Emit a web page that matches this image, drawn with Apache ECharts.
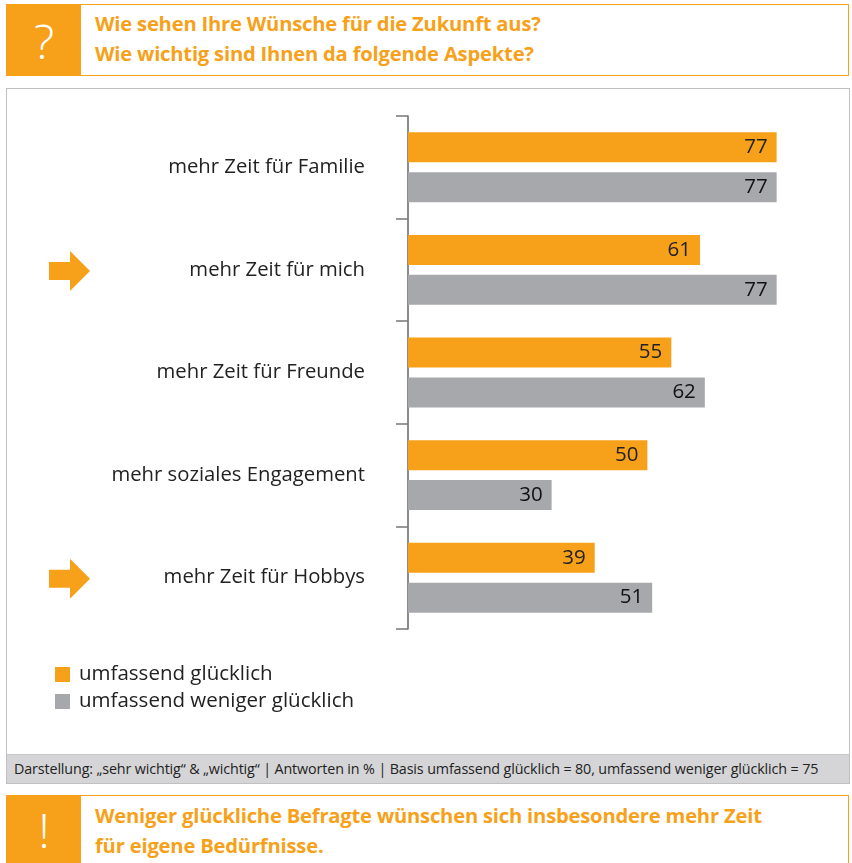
<!DOCTYPE html>
<html>
<head>
<meta charset="utf-8">
<script src="https://cdn.jsdelivr.net/npm/echarts@6/dist/echarts.min.js"></script>
<style>
body { margin: 0; width: 852px; height: 863px; background: #fff; font-family: "Open Sans", sans-serif; position: relative; overflow: hidden; }
.box { position: absolute; left: 6px; width: 843px; border: 1px solid #f7a11a; box-sizing: border-box; }
.sign { position: absolute; left: 0; top: 0; bottom: 0; width: 74px; background: #f7a11a; color: #fff; font-size: 48px; text-align: center; font-weight: 300; }
.boxText { position: absolute; left: 88px; color: #f7a11a; font-weight: bold; font-size: 20.2px; line-height: 30px; white-space: nowrap; letter-spacing: -0.2px; }
#frame { position: absolute; left: 6px; top: 88px; width: 844px; height: 696px; border: 1px solid #c0c0c0; box-sizing: border-box; }
#note { position: absolute; left: 0; right: 0; bottom: 0; height: 28px; background: #d5d5d7; border-top: 1px solid #c8c8c8; font-size: 14.3px; color: #222; line-height: 28px; padding-left: 7px; white-space: nowrap; letter-spacing: -0.12px; }
#myChartBar { position: absolute; left: 0; top: 0; width: 842px; height: 667px; }
</style>
</head>
<body>
<div class="box" style="top:4px;height:72px;">
  <div class="sign" style="line-height:72px;">?</div>
  <div class="boxText" style="top:3px;">Wie sehen Ihre Wünsche für die Zukunft aus?<br>Wie wichtig sind Ihnen da folgende Aspekte?</div>
</div>
<div id="frame">
  <div id="myChartBar"></div>
  <div id="note">Darstellung: „sehr wichtig“ &amp; „wichtig“ | Antworten in % | Basis umfassend glücklich = 80, umfassend weniger glücklich = 75</div>
</div>
<div class="box" style="top:795px;height:72px;">
  <div class="sign" style="line-height:68px;">!</div>
  <div class="boxText" style="top:4px;">Weniger glückliche Befragte wünschen sich insbesondere mehr Zeit<br>für eigene Bedürfnisse.</div>
</div>
<script>
var categories = ["mehr Zeit für Familie", "mehr Zeit für mich", "mehr Zeit für Freunde", "mehr soziales Engagement", "mehr Zeit für Hobbys"];
var gluecklich = [77, 61, 55, 50, 39];
var wenigerGluecklich = [77, 77, 62, 30, 51];
var seriesNames = ["umfassend glücklich", "umfassend weniger glücklich"];
var markedCategories = ["mehr Zeit für mich", "mehr Zeit für Hobbys"];

var colors = ["#f7a11a", "#a7a8ab"];
var myChartBar = echarts.init(document.getElementById("myChartBar"));
myChartBar.setOption({
  animation: false,
  color: colors,
  textStyle: { fontFamily: "Open Sans" },
  legend: {
    orient: "vertical",
    left: 43,
    top: 570,
    itemWidth: 15,
    itemHeight: 15,
    itemGap: 6,
    icon: "rect",
    textStyle: { fontSize: 20.5, color: "#222", padding: [0, 0, 0, 4] },
    data: seriesNames
  },
  grid: { left: 401, right: 58, top: 27, height: 513 },
  xAxis: { type: "value", min: 0, max: 80, show: false },
  yAxis: {
    type: "category",
    inverse: true,
    data: categories,
    axisLine: { show: true, lineStyle: { color: "#666", width: 1.5 } },
    axisTick: { show: true, alignWithLabel: false, length: 12, lineStyle: { color: "#777", width: 1.5 } },
    axisLabel: { fontSize: 20.3, color: "#222", margin: 43, padding: [3, 0, 0, 0] }
  },
  series: [
    {
      name: seriesNames[0],
      type: "bar",
      barWidth: 30,
      barGap: "33%",
      data: gluecklich,
      label: { show: true, position: "insideRight", distance: 9, fontSize: 20.5, color: "#222" }
    },
    {
      name: seriesNames[1],
      type: "bar",
      barWidth: 30,
      data: wenigerGluecklich,
      label: { show: true, position: "insideRight", distance: 9, fontSize: 20.5, color: "#111" }
    }
  ]
});

// orange arrows next to highlighted aspects
var arrows = markedCategories.map(function(cat) {
  var y = myChartBar.convertToPixel({ yAxisIndex: 0 }, cat) + 1;
  return {
    type: "polygon",
    shape: { points: [[42, y - 9], [63, y - 9], [63, y - 20], [83, y], [63, y + 20], [63, y + 9], [42, y + 9]] },
    style: { fill: colors[0] }
  };
});
myChartBar.setOption({ graphic: arrows });
</script>
</body>
</html>
